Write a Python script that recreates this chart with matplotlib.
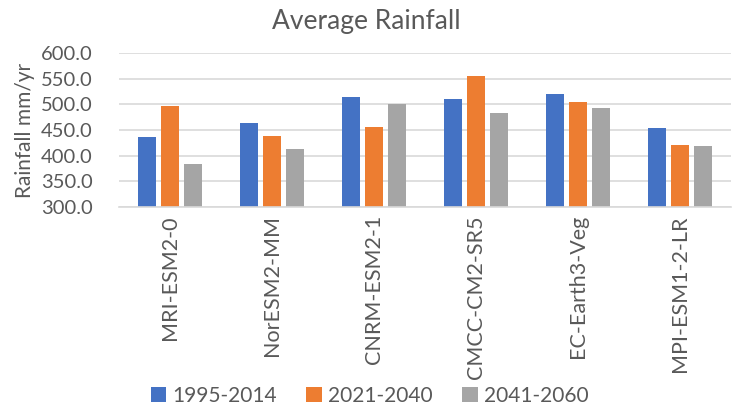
import matplotlib
matplotlib.use("Agg")
import matplotlib.pyplot as plt
import numpy as np

models = ["MRI-ESM2-0", "NorESM2-MM", "CNRM-ESM2-1", "CMCC-CM2-SR5",
          "EC-Earth3-Veg", "MPI-ESM1-2-LR"]
periods = ["1995-2014", "2021-2040", "2041-2060"]
rain_1995_2014 = [437, 463, 515, 511, 520, 454]
rain_2021_2040 = [497, 439, 455, 556, 505, 421]
rain_2041_2060 = [383, 412, 500, 484, 494, 418]
colors = ["#4472C4", "#ED7D31", "#A5A5A5"]
yticks = [300, 350, 400, 450, 500, 550, 600]

plt.rcParams["font.family"] = ["Lato", "DejaVu Sans"]
text_color = "#595959"

fig = plt.figure(figsize=(7.32, 4.09), dpi=100)
ax = fig.add_axes([119 / 732, 1 - 206.7 / 409, 612 / 732, 153.4 / 409])

x = np.arange(len(models))
width = 0.176
step = 0.225
series = [rain_1995_2014, rain_2021_2040, rain_2041_2060]
for i, (vals, c, lab) in enumerate(zip(series, colors, periods)):
    ax.bar(x + (i - 1) * step, np.array(vals) - 300, width=width, bottom=300,
           color=c, label=lab, zorder=3)

ax.set_xlim(-0.5, len(models) - 0.5)
ax.set_ylim(300, 600)
ax.set_yticks(yticks)
ax.set_yticklabels([f"{v:.1f}" for v in yticks], fontsize=14.5, color=text_color)
ax.set_xticks(x)
ax.set_xticklabels(models, rotation=90, fontsize=15.5, color=text_color)
ax.tick_params(axis="both", length=0)
ax.tick_params(axis="x", pad=6)
ax.tick_params(axis="y", pad=19)

ax.grid(axis="y", color="#D9D9D9", linewidth=1.2, zorder=0)
for s in ["top", "right", "left"]:
    ax.spines[s].set_visible(False)
ax.spines["bottom"].set_color("#D9D9D9")
ax.spines["bottom"].set_linewidth(1.2)
ax.spines["bottom"].set_zorder(4)

ax.set_ylabel("Rainfall mm/yr", fontsize=15, color=text_color, labelpad=4)
fig.text(0.5, 0.948, "Average Rainfall", ha="center", va="center",
         fontsize=19, color=text_color)

handles, labels = ax.get_legend_handles_labels()
fig.legend(handles, labels, loc="center", bbox_to_anchor=(0.505, 0.033),
           ncol=3, frameon=False, fontsize=15, labelcolor=text_color,
           handlelength=0.75, handleheight=0.75, handletextpad=0.3,
           columnspacing=1.4)

fig.savefig("out.png", dpi=100)
